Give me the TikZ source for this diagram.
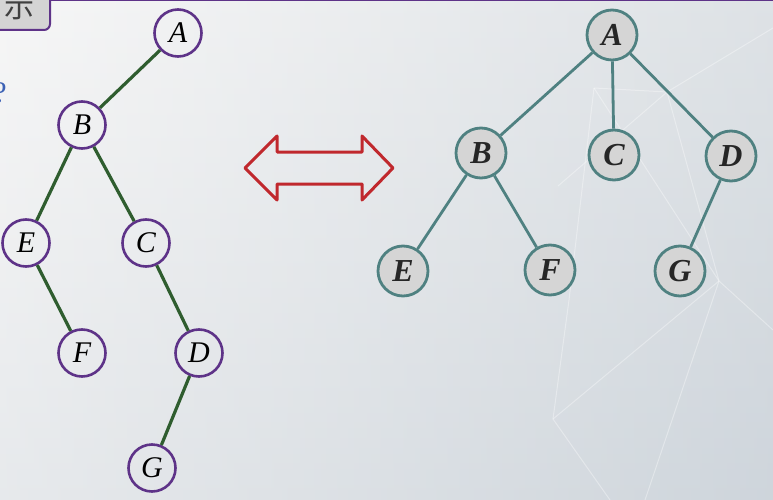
\documentclass[tikz,border=0pt]{standalone}
\usepackage{fontspec}
\setmainfont{Liberation Serif}
\newfontfamily\cjk{Noto Sans CJK SC}
\usepackage{tkz-euclide}
\usepackage{tikz}
\usepackage{amsmath}

\definecolor{lpurple}{HTML}{5E3388}
\definecolor{lgreen}{HTML}{2F5D2F}
\definecolor{rteal}{HTML}{4F8181}
\definecolor{rfill}{HTML}{D5D5D5}
\definecolor{arrred}{HTML}{C0282D}
\definecolor{qblue}{HTML}{3D62B5}
\definecolor{bgtop}{HTML}{F2F2F2}
\definecolor{bgbot}{HTML}{DADEE2}
\definecolor{bgright}{HTML}{B9C5D0}

\tikzset{
  lnode/.style={circle,draw=lpurple,line width=2.6pt,
    minimum size=47pt,inner sep=0pt,font=\fontsize{30}{30}\selectfont\itshape},
  ledge/.style={draw=lgreen,line width=3.2pt},
  rnode/.style={circle,draw=rteal,line width=2.8pt,fill=rfill,
    minimum size=50pt,inner sep=0pt,
    font=\fontsize{32}{32}\selectfont\bfseries\itshape,text=black!85},
  redge/.style={draw=rteal,line width=2.8pt},
  bgline/.style={white,opacity=0.35,line width=1pt}
}

\begin{document}
\begin{tikzpicture}[x=1pt,y=-1pt]
    \useasboundingbox (0,0) rectangle (773,500);
    \shade[top color=bgtop,bottom color=bgbot] (0,0) rectangle (773,500);
    \shade[left color=white,right color=bgright,opacity=0.35]
      (0,0) rectangle (773,500);
    % background web
    \draw[bgline] (594,88) -- (667,92) -- (773,28);
    \draw[bgline] (558,186) -- (667,92) -- (719,281);
    \draw[bgline] (594,88) -- (719,281);
    \draw[bgline] (594,88) -- (569,300) -- (553,419);
    \draw[bgline] (719,281) -- (553,419) -- (610,500);
    \draw[bgline] (719,281) -- (645,500);
    \draw[bgline] (719,281) -- (773,330);
    % top bar and caption
    \draw[lpurple,line width=2pt] (40,0.5) -- (773,0.5);
    \draw[lpurple,line width=2pt,fill=black!17,rounded corners=6pt]
      (-20,-30) rectangle (50,30);
    \node[font=\cjk\fontsize{30}{30}\selectfont,text=black!75] (cap) at (20,7) {示};
    \node[font=\fontsize{30}{30}\selectfont,text=qblue] (qm) at (0,93) {?};
    % binary tree
    \node[lnode] (lA) at (178,33) {A};
    \node[lnode] (lB) at (82,125) {B};
    \node[lnode] (lE) at (26,243) {E};
    \node[lnode] (lC) at (146,243) {C};
    \node[lnode] (lF) at (82,353) {F};
    \node[lnode] (lD) at (199,353) {D};
    \node[lnode] (lG) at (152,468) {G};
    \draw[ledge] (lA) -- (lB);
    \draw[ledge] (lB) -- (lE);
    \draw[ledge] (lB) -- (lC);
    \draw[ledge] (lE) -- (lF);
    \draw[ledge] (lC) -- (lD);
    \draw[ledge] (lD) -- (lG);
    % double arrow
    \tkzDefPoints{245/168/a1,277/136/a2,277/152/a3,362/152/a4,362/136/a5,
      393/168/a6,362/200/a7,362/184/a8,277/184/a9,277/200/a10}
    \tkzDrawPolygon[arrred,line width=3pt](a1,a2,a3,a4,a5,a6,a7,a8,a9,a10)
    % tree
    \node[rnode] (rA) at (612,35) {A};
    \node[rnode] (rB) at (481,153) {B};
    \node[rnode] (rC) at (614,155) {C};
    \node[rnode] (rD) at (731,156) {D};
    \node[rnode] (rE) at (403,271) {E};
    \node[rnode] (rF) at (550,270) {F};
    \node[rnode] (rG) at (680,271) {G};
    \draw[redge] (rA) -- (rB);
    \draw[redge] (rA) -- (rC);
    \draw[redge] (rA) -- (rD);
    \draw[redge] (rB) -- (rE);
    \draw[redge] (rB) -- (rF);
    \draw[redge] (rD) -- (rG);
\end{tikzpicture}
\end{document}
